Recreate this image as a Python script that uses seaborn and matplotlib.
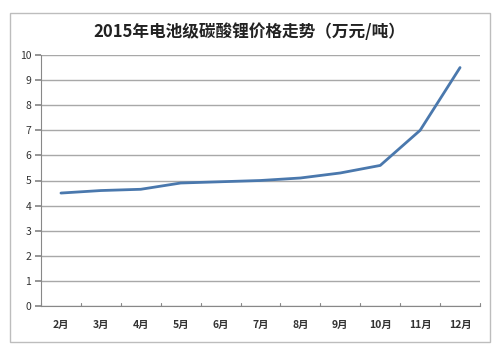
import matplotlib
matplotlib.use("Agg")
import matplotlib.pyplot as plt
import seaborn as sns
import pandas as pd
from matplotlib.patches import Rectangle

months = ["2月", "3月", "4月", "5月", "6月", "7月", "8月", "9月", "10月", "11月", "12月"]
prices = [4.5, 4.6, 4.65, 4.9, 4.95, 5.0, 5.1, 5.3, 5.6, 7.0, 9.5]
title = "2015年电池级碳酸锂价格走势（万元/吨）"

sns.set_theme(style="white")
plt.rcParams['font.family'] = ['Noto Sans CJK SC', 'DejaVu Sans']

df = pd.DataFrame({"month": months, "price": prices})
fig = plt.figure(figsize=(4.98, 3.53), dpi=100)
fig.patch.set_facecolor("white")
fig.add_artist(Rectangle((10/498, 1-342/353), 480/498, 329/353, transform=fig.transFigure,
                         fill=False, edgecolor="#bdbdbd", linewidth=1.0))
ax = fig.add_axes([41/498, 1-306/353, 439/498, 251/353])
sns.lineplot(data=df, x=range(len(months)), y="price", ax=ax, color="#4a78ad", linewidth=2.0)
ax.set_xlim(-0.5, len(months)-0.5)
ax.set_ylim(0, 10)
ax.set_yticks(range(0, 11))
ax.yaxis.grid(True, color="#a8a8a8", linewidth=1.0)
ax.set_axisbelow(True)
ax.set_xticks(range(len(months)))
ax.set_xticklabels(months, fontsize=7.5, fontweight="bold", color="#333333")
ax.tick_params(axis="x", length=0, pad=10)
ax.tick_params(axis="y", labelsize=7.5, colors="#333333", length=4, left=True, color="#888888", pad=3)
for b in [i + 0.5 for i in range(-1, len(months))]:
    ax.plot([b, b], [0, 0.12], color="#888888", linewidth=0.8, clip_on=False)
ax.set_xlabel("")
ax.set_ylabel("")
for s in ["top", "right"]:
    ax.spines[s].set_visible(False)
ax.spines["left"].set_color("#888888")
ax.spines["bottom"].set_color("#888888")
ax.spines["left"].set_linewidth(0.8)
ax.spines["bottom"].set_linewidth(0.8)
fig.text(0.5, 1-32/353, title, ha="center", va="center", fontsize=12, fontweight="bold", color="#222222")
fig.savefig("out.png", dpi=100)
